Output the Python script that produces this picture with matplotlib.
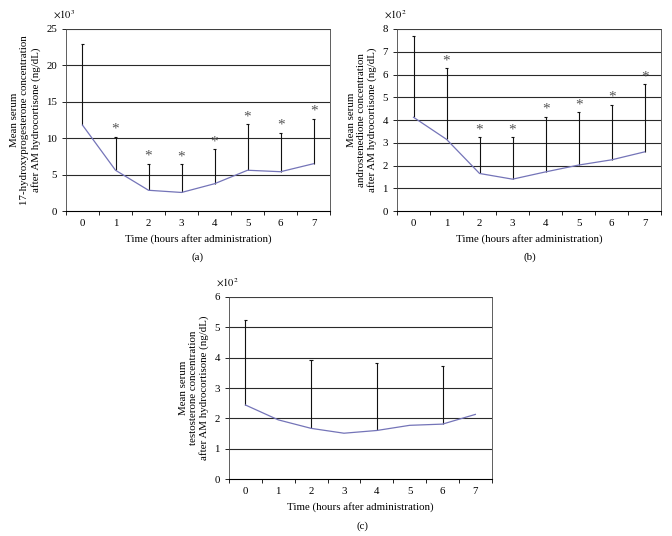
import numpy as np
import matplotlib
matplotlib.use("Agg")
import matplotlib.pyplot as plt

hours = [0, 1, 2, 3, 4, 5, 6, 7]

# (a) 17-hydroxyprogesterone, x10^3 ng/dL
ohp_mean = [11.8, 5.6, 2.85, 2.55, 3.75, 5.6, 5.4, 6.5]
ohp_upper = [23.0, 10.2, 6.5, 6.4, 8.45, 11.9, 10.75, 12.7]
ohp_star = [0, 1, 1, 1, 1, 1, 1, 1]

# (b) androstenedione, x10^2 ng/dL
andro_mean = [4.12, 3.15, 1.65, 1.4, 1.72, 2.02, 2.25, 2.6]
andro_upper = [7.7, 6.28, 3.24, 3.24, 4.15, 4.34, 4.68, 5.57]
andro_star = [0, 1, 1, 1, 1, 1, 1, 1]

# (c) testosterone, x10^2 ng/dL  (error bars only at 0, 2, 4, 6)
testo_mean = [2.44, 1.95, 1.67, 1.51, 1.6, 1.77, 1.81, 2.13]
testo_upper = [5.23, np.nan, 3.91, np.nan, 3.81, np.nan, 3.74, np.nan]
testo_star = [0, 0, 0, 0, 0, 0, 0, 0]

plt.rcParams["font.family"] = ["Liberation Serif", "DejaVu Serif"]
plt.rcParams["font.size"] = 7.8
plt.rcParams["mathtext.fontset"] = "stix"

LINE_COL = "#7474b8"


def panel(ax, mean, upper, star, ymax, ystep, scale, ylabel, tag, tagx, tagy):
    x = np.array(hours, dtype=float)
    mean = np.array(mean, dtype=float)
    upper = np.array(upper, dtype=float)

    for yv in np.arange(ystep, ymax + ystep / 2, ystep):
        ax.axhline(yv, color="#2a2a2a", lw=0.8, zorder=1)

    ok = ~np.isnan(upper)
    ax.vlines(x[ok], mean[ok], upper[ok], color="#111111", lw=0.8, zorder=2)
    ax.hlines(upper[ok], x[ok] - 0.05, x[ok] + 0.05, color="#111111", lw=0.8, zorder=2)
    ax.plot(x, mean, color=LINE_COL, lw=0.9, zorder=3)

    for xi, up, s in zip(x, upper, star):
        if s:
            ax.text(xi, up + ymax * 0.005, "*", ha="center", va="bottom",
                    fontsize=11, color="#555555")

    ax.set_xlim(-0.5, 7.5)
    ax.set_ylim(0, ymax)
    ax.set_xticks(x)
    ax.set_xticks(np.arange(-0.5, 8, 1), minor=True)
    ax.tick_params(axis="x", which="major", length=0, pad=6)
    ax.tick_params(axis="x", which="minor", length=3, direction="out", width=0.6)
    ax.set_yticks(np.arange(0, ymax + ystep / 2, ystep))
    ax.tick_params(axis="y", length=3, width=0.6, direction="out")
    for sp in ax.spines.values():
        sp.set_linewidth(0.6)
        sp.set_color("#444444")
    ax.spines["bottom"].set_color("black")
    ax.spines["bottom"].set_linewidth(0.8)
    ax.set_xlabel("Time (hours after administration)", labelpad=4)
    ax.set_ylabel(ylabel, linespacing=1.15, labelpad=4)
    ax.text(-0.05, 1.045, scale, transform=ax.transAxes, ha="left", va="bottom", fontsize=7.5)
    fig.text(tagx, tagy, tag, ha="center", va="center")


fig = plt.figure(figsize=(6.72, 5.36), dpi=100)

ax_a = fig.add_axes([0.0982, 0.6063, 0.393, 0.3396])
panel(ax_a, ohp_mean, ohp_upper, ohp_star, 25, 5, r"$\times10^3$",
      "Mean serum\n17-hydroxyprogesterone concentration\nafter AM hydrocortisone (ng/dL)",
      "(a)", 198 / 672, 1 - 257 / 536)

ax_b = fig.add_axes([0.5908, 0.6063, 0.393, 0.3396])
panel(ax_b, andro_mean, andro_upper, andro_star, 8, 1, r"$\times10^2$",
      "Mean serum\nandrostenedione concentration\nafter AM hydrocortisone (ng/dL)",
      "(b)", 530 / 672, 1 - 257 / 536)

ax_c = fig.add_axes([0.3408, 0.1063, 0.391, 0.3396])
panel(ax_c, testo_mean, testo_upper, testo_star, 6, 1, r"$\times10^2$",
      "Mean serum\ntestosterone concentration\nafter AM hydrocortisone (ng/dL)",
      "(c)", 362 / 672, 1 - 526 / 536)

fig.savefig("out.png", dpi=100)
